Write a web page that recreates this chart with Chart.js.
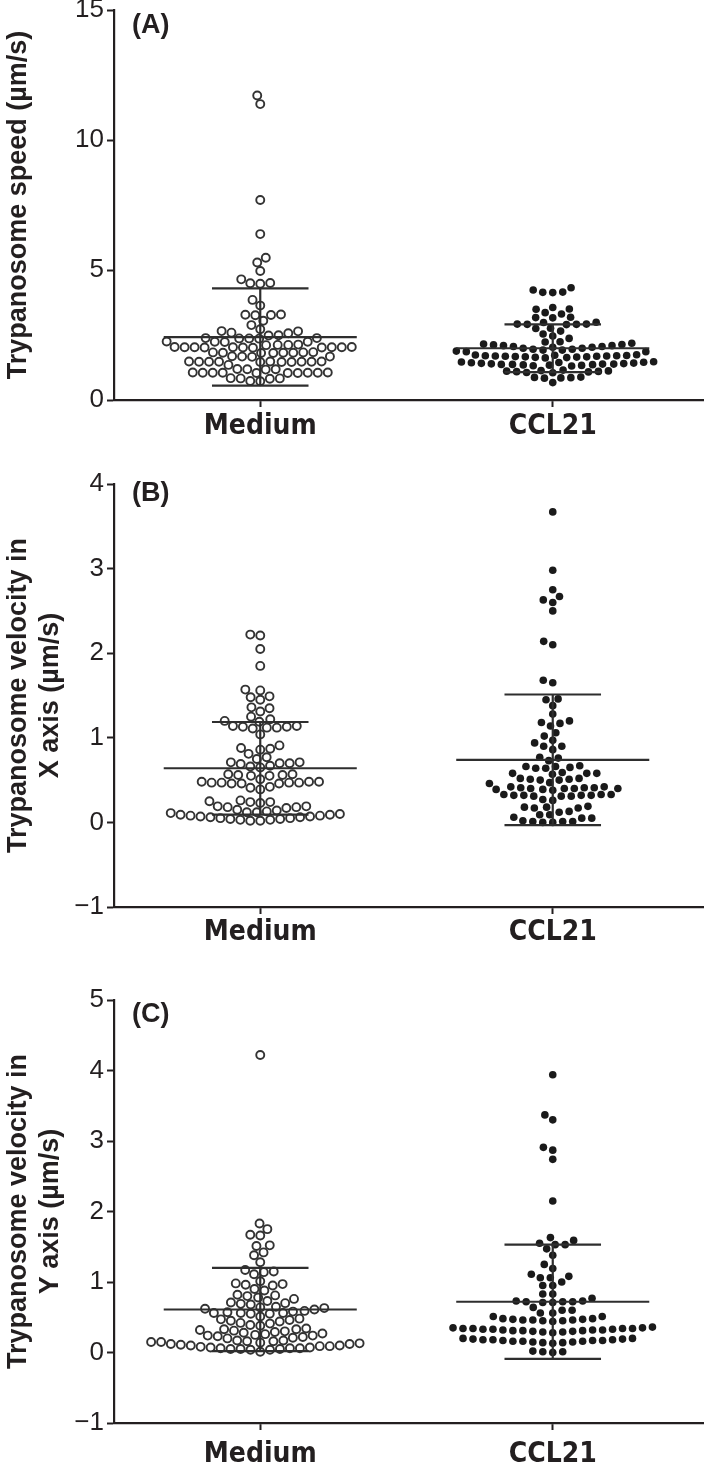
<!DOCTYPE html>
<html>
<head>
<meta charset="utf-8">
<script src="https://cdn.jsdelivr.net/npm/chart.js@4.4.1/dist/chart.umd.min.js"></script>
<style>
  html, body { margin: 0; padding: 0; background: #fff; }
  .panel { position: absolute; left: 0; width: 709px; }
</style>
</head>
<body>
<div class="panel" style="top:0;height:470px"><canvas id="chartA" width="709" height="470"></canvas></div>
<div class="panel" style="top:470px;height:480px"><canvas id="chartB" width="709" height="480"></canvas></div>
<div class="panel" style="top:950px;height:525px"><canvas id="chartC" width="709" height="525"></canvas></div>
<script>
const groups = ['Medium', 'CCL21'];

// (A) speed, µm/s
const speedMedium = [11.71, 11.38, 7.69, 6.38, 5.47, 5.29, 4.96, 4.64, 4.49, 4.47, 4.50, 3.85, 3.63,
  3.27, 3.28, 3.26, 3.29, 3.05, 2.88, 2.72, 2.65, 2.64, 2.59, 2.57, 2.49, 2.48,
  2.37, 2.38, 2.36, 2.37, 2.38, 2.24, 2.25, 2.23, 2.24, 2.12, 2.13, 2.11, 2.12,
  2.03, 2.02, 2.04, 2.03, 2.01, 2.03, 2.02, 2.04, 2.03, 2.02, 2.03,
  1.82, 1.83, 1.81, 1.82, 1.84, 1.82, 1.81, 1.83, 1.67, 1.66, 1.68, 1.67,
  1.47, 1.48, 1.46, 1.47, 1.47, 1.48, 1.46, 1.47, 1.48, 1.47, 1.46, 1.35,
  1.18, 1.19, 1.17, 1.18, 1.05, 1.04, 1.06, 1.05, 1.05, 1.04, 1.06, 1.05, 1.05, 1.04,
  0.83, 0.84, 0.82, 0.83, 0.73, 0.72];
const speedCCL21 = [4.32, 4.14, 4.13, 4.15, 4.23, 3.56, 3.50, 3.49, 3.36, 3.31, 3.17, 3.18, 3.16,
  2.99, 2.98, 2.91, 2.92, 2.90, 2.91, 2.92, 2.76, 2.75, 2.65, 2.54, 2.46, 2.37, 2.24, 2.23,
  1.86, 1.86, 1.88, 1.92, 1.92, 1.95, 1.95, 1.99, 1.99, 2.03, 2.03, 2.06, 2.06, 2.09, 2.09, 2.12, 2.13, 2.15, 2.18,
  1.62, 1.63, 1.64, 1.65, 1.66, 1.66, 1.67, 1.68, 1.68, 1.69, 1.69, 1.70, 1.70, 1.71, 1.72, 1.73, 1.74,
  1.31, 1.32, 1.33, 1.34, 1.35, 1.36, 1.37, 1.37, 1.38, 1.38, 1.39, 1.40, 1.41, 1.42, 1.43, 1.44, 1.45, 1.46, 1.47,
  1.05, 1.06, 1.08, 1.09, 1.10, 1.11, 1.12, 1.13, 1.15, 0.84, 0.85, 0.86, 0.87, 0.88, 0.67];
const speedMean = [2.42, 1.99];
const speedSD = [1.87, 0.92];

// (B) velocity in X axis, µm/s
const velXMedium = [2.21, 2.22, 2.05, 1.85, 1.56, 1.57, 1.48, 1.49, 1.45, 1.35, 1.36, 1.31, 1.25, 1.22,
  1.19, 1.20, 1.13, 1.12, 1.14, 1.13, 1.12, 1.14, 1.11, 1.04, 0.91, 0.87, 0.88, 0.86, 0.81, 0.77, 0.75,
  0.70, 0.71, 0.69, 0.70, 0.71, 0.66, 0.65, 0.67, 0.56, 0.55, 0.57, 0.56, 0.55, 0.57, 0.51,
  0.47, 0.46, 0.48, 0.47, 0.46, 0.48, 0.47, 0.46, 0.48, 0.47, 0.39, 0.41, 0.42,
  0.24, 0.25, 0.23, 0.24, 0.26, 0.18, 0.19, 0.17, 0.18, 0.19, 0.15,
  0.02, 0.02, 0.03, 0.03, 0.04, 0.04, 0.05, 0.05, 0.06, 0.06, 0.07, 0.07, 0.08, 0.08, 0.09, 0.09,
  0.10, 0.11, 0.12, 0.12, 0.13, 0.14];
const velXCCL21 = [3.67, 2.98, 2.75, 2.67, 2.63, 2.60, 2.50, 2.14, 2.10, 1.68, 1.65, 1.45, 1.46, 1.38,
  1.28, 1.20, 1.17, 1.18, 1.14, 1.06, 1.02, 0.97, 0.94, 0.90, 0.90, 0.86, 0.76, 0.77, 0.73,
  0.66, 0.67, 0.66, 0.65, 0.64, 0.64, 0.58, 0.58, 0.59, 0.57, 0.58,
  0.51, 0.52, 0.50, 0.51, 0.52, 0.50, 0.46, 0.47,
  0.38, 0.39, 0.39, 0.40, 0.40, 0.40, 0.41, 0.41, 0.41, 0.42, 0.42, 0.40,
  0.31, 0.32, 0.33, 0.32, 0.31, 0.33, 0.32, 0.31, 0.33, 0.32, 0.26, 0.27,
  0.17, 0.18, 0.19, 0.18, 0.17, 0.13, 0.12, 0.09, 0.09, 0.05, 0.06, 0.05,
  0.00, 0.01, 0.01, 0.02, 0.00, 0.01];
const velXMean = [0.64, 0.74];
const velXSD = [0.547, 0.772];

// (C) velocity in Y axis, µm/s
const velYMedium = [4.22, 1.83, 1.75, 1.67, 1.66, 1.52, 1.51, 1.42, 1.38, 1.28, 1.17, 1.15, 1.14, 1.11,
  0.98, 0.97, 0.96, 0.95, 1.01, 0.90, 0.88, 0.82, 0.81, 0.80, 0.78, 0.76, 0.73, 0.71, 0.69, 0.68, 0.70,
  0.64, 0.65, 0.63, 0.62, 0.61, 0.59, 0.58, 0.56, 0.56, 0.55, 0.57, 0.56, 0.55, 0.51,
  0.47, 0.48, 0.45, 0.44, 0.46, 0.42, 0.41, 0.39, 0.38, 0.34, 0.33,
  0.20, 0.21, 0.22, 0.23, 0.24, 0.24, 0.25, 0.26, 0.27, 0.28, 0.29, 0.30, 0.31, 0.32, 0.33,
  0.08, 0.09, 0.09, 0.10, 0.10, 0.11, 0.12, 0.12, 0.13, 0.14, 0.15, 0.15, 0.16, 0.16, 0.17, 0.17,
  0.04, 0.04, 0.05, 0.05, 0.05, 0.06, 0.06, 0.06, 0.07, 0.07, 0.01];
const velYCCL21 = [3.94, 3.37, 3.30, 2.91, 2.87, 2.74, 2.15, 1.63, 1.59, 1.55, 1.53, 1.53, 1.47, 1.38,
  1.25, 1.19, 1.11, 1.08, 1.06, 1.06, 1.00, 0.95, 0.95,
  0.83, 0.83, 0.77, 0.72, 0.72, 0.73, 0.71, 0.72, 0.73, 0.71, 0.64, 0.60, 0.60, 0.56, 0.56, 0.51, 0.51,
  0.44, 0.45, 0.45, 0.46, 0.46, 0.46, 0.47, 0.47, 0.48, 0.48, 0.34, 0.35, 0.35, 0.36, 0.34,
  0.28, 0.29, 0.29, 0.30, 0.30, 0.31, 0.31, 0.31, 0.32, 0.32, 0.32, 0.33, 0.33, 0.33, 0.34, 0.34,
  0.13, 0.14, 0.14, 0.15, 0.15, 0.16, 0.16, 0.16, 0.17, 0.17, 0.17, 0.18, 0.18, 0.18, 0.19, 0.19, 0.20, 0.20,
  0.00, 0.01, 0.01, 0.02];
const velYMean = [0.61, 0.72];
const velYSD = [0.59, 0.81];

const ink = '#231f20';
const lineInk = '#2e2e2e';
const narrow = "'DejaVu Sans Condensed', 'Liberation Sans Narrow', 'Liberation Sans', sans-serif";
const plain = "'Liberation Sans', Arial, sans-serif";

// beeswarm: push each point sideways (pixels) until it clears the ones already placed.
// collision zone is an ellipse gx wide, gy tall
function swarm(chart, values, center, gx, gy) {
  const xs = chart.scales.x, ys = chart.scales.y;
  const cx = xs.getPixelForValue(center);
  const pts = values.map(v => ({ v: v, py: ys.getPixelForValue(v), dx: 0 }));
  const order = [...pts].sort((a, b) => a.v - b.v);
  const placed = [];
  order.forEach(p => {
    const near = placed.filter(q => Math.abs(q.py - p.py) < gy);
    const cands = [0];
    near.forEach(q => {
      const t = (q.py - p.py) / gy;
      const off = gx * Math.sqrt(1 - t * t);
      cands.push(q.dx - off, q.dx + off);
    });
    cands.sort((a, b) => Math.abs(a) - Math.abs(b));
    for (const c of cands) {
      const ok = near.every(q => ((q.dx - c) / gx) ** 2 + ((q.py - p.py) / gy) ** 2 >= 0.999);
      if (ok) { p.dx = c; break; }
    }
    placed.push(p);
  });
  return pts.map(p => ({ x: xs.getValueForPixel(cx + p.dx), y: p.v }));
}

function errorLines(mean, sd) {
  const sets = [];
  mean.forEach((m, i) => {
    const c = i + 1;
    const segs = [
      [[c - 0.33, m], [c + 0.33, m]],
      [[c - 0.165, m + sd[i]], [c + 0.165, m + sd[i]]],
      [[c - 0.165, m - sd[i]], [c + 0.165, m - sd[i]]],
      [[c, m - sd[i]], [c, m + sd[i]]]
    ];
    segs.forEach(s => sets.push({
      type: 'line',
      data: s.map(p => ({ x: p[0], y: p[1] })),
      borderColor: lineInk,
      borderWidth: 2.2,
      pointRadius: 0,
      fill: false,
      order: 0
    }));
  });
  return sets;
}

const panelLetter = {
  id: 'panelLetter',
  afterDraw(chart, args, opts) {
    const ctx = chart.ctx;
    ctx.save();
    ctx.fillStyle = ink;
    ctx.font = 'bold 27px ' + plain;
    ctx.textBaseline = 'middle';
    ctx.fillText(opts.text, 132, chart.chartArea.top + opts.dy);
    ctx.restore();
  }
};

function makePanel(id, cfg) {
  const canvas = document.getElementById(id);
  const H = canvas.height;
  const chart = new Chart(canvas.getContext('2d'), {
    type: 'scatter',
    data: {
      datasets: [
        ...errorLines(cfg.mean, cfg.sd),
        {
          data: cfg.medium.map(v => ({ x: 1, y: v })),
          pointRadius: 4,
          pointBorderWidth: 1.9,
          pointBackgroundColor: '#ffffff',
          pointBorderColor: '#333333',
          order: 1
        },
        {
          data: cfg.ccl21.map(v => ({ x: 2, y: v })),
          pointRadius: 3.8,
          pointBorderWidth: 0,
          pointBackgroundColor: '#1a1a1a',
          pointBorderColor: '#1a1a1a',
          order: 1
        }
      ]
    },
    options: {
      responsive: false,
      animation: false,
      events: [],
      layout: { padding: { top: cfg.top, left: 0, right: 0, bottom: 0 } },
      plugins: {
        legend: { display: false },
        tooltip: { enabled: false },
        panelLetter: { text: cfg.letter, dy: cfg.letterDy }
      },
      scales: {
        x: {
          type: 'linear',
          min: 0.5,
          max: 2.514,
          afterBuildTicks: axis => { axis.ticks = groups.map((g, i) => ({ value: i + 1 })); },
          afterFit: axis => { axis.height = H - cfg.bottom; axis.paddingLeft = 0; axis.paddingRight = 0; },
          grid: { drawOnChartArea: false, drawTicks: true, tickLength: 7, tickWidth: 2, tickColor: ink },
          border: { display: true, color: ink, width: 2.2 },
          ticks: {
            autoSkip: false,
            maxRotation: 0,
            padding: cfg.labelPad,
            color: ink,
            font: { family: narrow, size: 28, weight: 'bold' },
            callback: v => groups[v - 1]
          }
        },
        y: {
          min: cfg.yMin,
          max: cfg.yMax,
          afterFit: axis => { axis.width = 114; axis.paddingTop = 0; axis.paddingBottom = 0; },
          grid: { drawOnChartArea: false, drawTicks: true, tickLength: 7, tickWidth: 2, tickColor: ink },
          border: { display: true, color: ink, width: 2.2 },
          ticks: {
            stepSize: cfg.step,
            padding: 3,
            color: ink,
            font: { family: plain, size: 26 },
            callback: v => String(v).replace('-', '\u2212')
          },
          title: {
            display: true,
            text: cfg.title,
            color: ink,
            padding: { top: 2, bottom: 0 },
            font: { family: plain, size: 27, weight: 'bold', lineHeight: 1.2 }
          }
        }
      }
    },
    plugins: [panelLetter]
  });
  const n = chart.data.datasets.length;
  chart.data.datasets[n - 2].data = swarm(chart, cfg.medium, 1, 10, 9);
  chart.data.datasets[n - 1].data = swarm(chart, cfg.ccl21, 2, 10, 8);
  chart.update('none');
  return chart;
}

makePanel('chartA', {
  medium: speedMedium, ccl21: speedCCL21, mean: speedMean, sd: speedSD,
  yMin: 0, yMax: 15, step: 5, top: 10, bottom: 400, labelPad: 3,
  title: 'Trypanosome speed (\u00b5m/s)', letter: '(A)', letterDy: 16
});
makePanel('chartB', {
  medium: velXMedium, ccl21: velXCCL21, mean: velXMean, sd: velXSD,
  yMin: -1, yMax: 4, step: 1, top: 14, bottom: 437, labelPad: 2,
  title: ['Trypanosome velocity in', 'X axis (\u00b5m/s)'], letter: '(B)', letterDy: 10
});
makePanel('chartC', {
  medium: velYMedium, ccl21: velYCCL21, mean: velYMean, sd: velYSD,
  yMin: -1, yMax: 5, step: 1, top: 50, bottom: 473, labelPad: 8,
  title: ['Trypanosome velocity in', 'Y axis (\u00b5m/s)'], letter: '(C)', letterDy: 15
});
</script>
</body>
</html>
